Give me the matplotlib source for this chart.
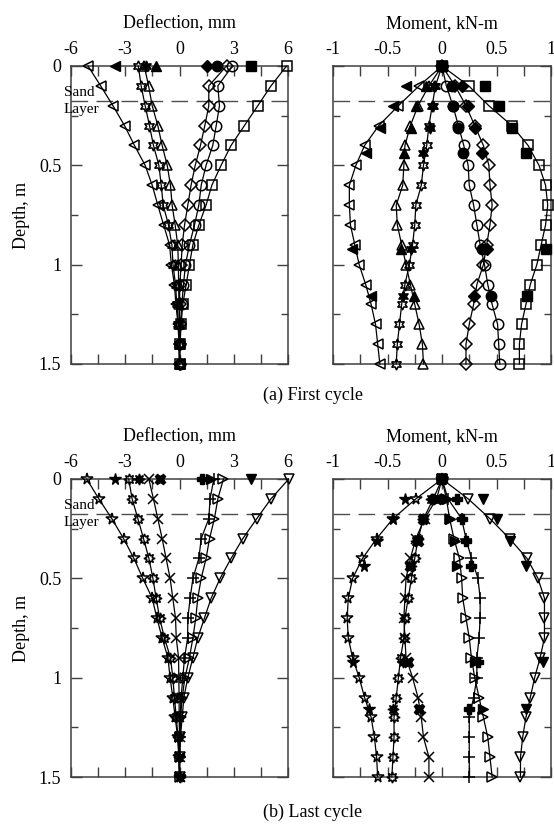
import matplotlib
matplotlib.use("Agg")
import matplotlib.pyplot as plt
from matplotlib.ticker import MultipleLocator, FuncFormatter

plt.rcParams['font.family'] = ['Liberation Serif', 'DejaVu Serif']
plt.rcParams['axes.unicode_minus'] = False

# depths of the profile points and of the strain gauges (m)
depth = [0, 0.1, 0.2, 0.3, 0.4, 0.5, 0.6, 0.7, 0.8, 0.9, 1.0, 1.1, 1.2, 1.3, 1.4, 1.5]
gauge_depth = [0, 0.1, 0.2, 0.31, 0.44, 0.92, 1.16]
sand_depth = 0.175

# ---- (a) first cycle ----
# deflection (mm), open markers
d1_ltri = [-5.06, -4.36, -3.68, -3.04, -2.49, -1.90, -1.51, -1.20, -0.88, -0.55, -0.45, -0.28, -0.20, -0.08, -0.03, 0.0]
d1_hex = [-2.28, -2.12, -1.90, -1.66, -1.44, -1.14, -1.01, -0.90, -0.61, -0.42, -0.36, -0.22, -0.15, -0.06, -0.02, 0.0]
d1_tri = [-1.95, -1.71, -1.51, -1.20, -0.96, -0.68, -0.50, -0.41, -0.24, -0.10, -0.06, -0.05, -0.03, -0.01, 0.0, 0.0]
d1_dia = [2.60, 1.62, 1.62, 1.40, 1.16, 0.87, 0.64, 0.46, 0.28, 0.15, 0.09, 0.02, 0.0, 0.0, 0.0, 0.0]
d1_cir = [2.93, 2.12, 2.21, 2.03, 1.84, 1.47, 1.20, 1.07, 0.83, 0.55, 0.33, 0.22, 0.13, 0.05, 0.02, 0.0]
d1_sq = [5.92, 5.06, 4.33, 3.59, 2.85, 2.30, 1.79, 1.47, 1.07, 0.74, 0.55, 0.37, 0.18, 0.09, 0.03, 0.0]
# measured pile-head deflection (mm), filled markers
d1_head = [-3.56, -1.83, -1.28, 1.54, 2.09, 3.98]

# moment (kN-m), open markers
m1_ltri = [0, -0.21, -0.40, -0.58, -0.71, -0.79, -0.85, -0.85, -0.84, -0.80, -0.76, -0.70, -0.65, -0.61, -0.59, -0.57]
m1_hex = [0, -0.06, -0.09, -0.12, -0.14, -0.17, -0.19, -0.24, -0.25, -0.27, -0.30, -0.34, -0.37, -0.39, -0.41, -0.42]
m1_tri = [0, -0.12, -0.22, -0.29, -0.34, -0.35, -0.36, -0.42, -0.41, -0.37, -0.33, -0.29, -0.25, -0.21, -0.18, -0.17]
m1_dia = [0, 0.12, 0.22, 0.30, 0.38, 0.43, 0.44, 0.46, 0.44, 0.41, 0.38, 0.32, 0.29, 0.25, 0.22, 0.22]
m1_cir = [0, 0.04, 0.10, 0.15, 0.20, 0.24, 0.25, 0.29, 0.32, 0.35, 0.39, 0.42, 0.46, 0.51, 0.52, 0.53]
m1_sq = [0, 0.245, 0.43, 0.64, 0.79, 0.89, 0.95, 0.97, 0.95, 0.91, 0.87, 0.81, 0.77, 0.73, 0.71, 0.71]
# strain gauge moments, filled markers
g1_ltri = [0, -0.33, -0.45, -0.57, -0.70, -0.83, -0.65]
g1_hex = [0, -0.07, -0.08, -0.11, -0.17, -0.28, -0.36]
g1_tri = [0, -0.15, -0.24, -0.28, -0.35, -0.38, -0.26]
g1_dia = [0, 0.18, 0.24, 0.30, 0.37, 0.41, 0.29]
g1_cir = [0, 0.09, 0.10, 0.15, 0.19, 0.37, 0.45]
g1_sq = [0, 0.39, 0.52, 0.64, 0.77, 0.95, 0.78]

# ---- (b) last cycle ----
d2_star = [-5.13, -4.46, -3.74, -3.09, -2.52, -2.03, -1.51, -1.25, -0.96, -0.64, -0.52, -0.37, -0.24, -0.10, -0.04, 0.0]
d2_burst = [-2.81, -2.62, -2.30, -1.99, -1.69, -1.47, -1.29, -1.10, -0.83, -0.50, -0.37, -0.28, -0.18, -0.08, -0.03, 0.0]
d2_x = [-1.70, -1.44, -1.20, -0.96, -0.74, -0.52, -0.37, -0.22, -0.18, -0.05, -0.04, -0.02, -0.02, 0.0, 0.0, 0.0]
d2_plus = [1.90, 1.69, 1.62, 1.20, 1.07, 0.74, 0.59, 0.46, 0.45, 0.28, 0.18, 0.09, 0.03, 0.01, 0.0, 0.0]
d2_rtri = [2.43, 2.12, 1.93, 1.66, 1.47, 1.20, 1.01, 0.90, 0.74, 0.55, 0.30, 0.15, 0.06, 0.02, 0.0, 0.0]
d2_dtri = [6.04, 5.06, 4.27, 3.50, 2.85, 2.25, 1.75, 1.38, 1.01, 0.74, 0.46, 0.24, 0.15, 0.05, 0.02, 0.0]
d2_head = [-3.56, -2.26, -1.06, 1.26, 1.72, 3.94]

m2_star = [0, -0.24, -0.45, -0.60, -0.73, -0.82, -0.86, -0.87, -0.86, -0.82, -0.76, -0.71, -0.65, -0.62, -0.60, -0.59]
m2_burst = [0, -0.08, -0.17, -0.22, -0.25, -0.28, -0.31, -0.34, -0.35, -0.38, -0.40, -0.42, -0.44, -0.44, -0.45, -0.46]
m2_x = [0, -0.05, -0.16, -0.24, -0.29, -0.33, -0.34, -0.35, -0.34, -0.33, -0.27, -0.22, -0.19, -0.17, -0.12, -0.12]
m2_plus = [0, 0.055, 0.18, 0.22, 0.27, 0.33, 0.35, 0.35, 0.34, 0.32, 0.32, 0.29, 0.25, 0.25, 0.25, 0.25]
m2_rtri = [0, 0.04, 0.07, 0.11, 0.16, 0.18, 0.19, 0.22, 0.25, 0.27, 0.30, 0.34, 0.38, 0.42, 0.44, 0.46]
m2_dtri = [0, 0.24, 0.44, 0.62, 0.78, 0.88, 0.94, 0.94, 0.94, 0.90, 0.85, 0.81, 0.77, 0.74, 0.72, 0.72]
g2_star = [0, -0.34, -0.45, -0.60, -0.72, -0.82, -0.67]
g2_burst = [0, -0.10, -0.17, -0.24, -0.28, -0.36, -0.45]
g2_x = [0, -0.05, -0.17, -0.22, -0.29, -0.31, -0.21]
g2_plus = [0, 0.14, 0.18, 0.22, 0.27, 0.33, 0.25]
g2_rtri = [0, 0.05, 0.07, 0.12, 0.14, 0.30, 0.38]
g2_dtri = [0, 0.38, 0.50, 0.62, 0.77, 0.93, 0.77]

hexagram = (6, 1, 0)
burst = (8, 1, 0)
# (open marker, filled marker)
marks1 = [('<', '<'), (hexagram, hexagram), ('^', '^'), ('D', 'D'), ('o', 'o'), ('s', 's')]
marks2 = [('*', '*'), (burst, burst), ('x', 'X'), ('+', 'P'), ('>', '>'), ('v', 'v')]
sizes = {'D': 6, 's': 7.5, 'o': 7.5, '*': 8.5, 'x': 7.5, '+': 8.5}

fmt = FuncFormatter(lambda v, p: '%g' % v)


def msize(m):
    return sizes.get(m, 7.5) if isinstance(m, str) else 8


def style_ax(ax, xlim, major, minor, xlabel, left_labels):
    ax.set_xlim(xlim)
    ax.set_ylim(1.5, 0)
    ax.xaxis.set_major_locator(MultipleLocator(major))
    ax.xaxis.set_minor_locator(MultipleLocator(minor))
    ax.yaxis.set_major_locator(MultipleLocator(0.5))
    ax.yaxis.set_minor_locator(MultipleLocator(0.25))
    ax.xaxis.set_major_formatter(fmt)
    ax.yaxis.set_major_formatter(fmt)
    ax.tick_params(which='both', direction='in', top=True, bottom=True,
                   left=True, right=True, labeltop=True, labelbottom=False,
                   labelleft=left_labels, labelsize=13, width=1.0, color='0.25')
    ax.tick_params(axis='x', which='both', length=7, pad=6)
    ax.tick_params(axis='y', which='major', length=8, pad=7)
    ax.tick_params(axis='y', which='minor', length=5)
    ax.xaxis.set_label_position('top')
    ax.set_xlabel(xlabel, fontsize=13, labelpad=9)
    for s in ax.spines.values():
        s.set_linewidth(1.1)
        s.set_color('0.25')
    ax.axhline(sand_depth, color='0.3', lw=1.0, dashes=(12, 6), zorder=1)


def draw_profiles(ax, series, marks):
    for vals, (m, _) in zip(series, marks):
        ax.plot(vals, depth, color='black', lw=0.9, marker=m, ms=msize(m),
                mfc='none', mec='black', mew=1.1, zorder=3, clip_on=False)


def draw_head(ax, vals, marks):
    for v, (_, m) in zip(vals, marks):
        ax.plot([v], [0], linestyle='none', marker=m, ms=msize(m), color='black',
                mfc='black', mec='black', mew=1.0, zorder=5, clip_on=False)


def draw_gauges(ax, series, marks):
    for vals, (_, m) in zip(series, marks):
        ax.plot(vals, gauge_depth, linestyle='none', marker=m, ms=msize(m),
                color='black', mfc='black', mec='black', mew=1.0, zorder=5, clip_on=False)


fig = plt.figure(figsize=(5.54, 8.25), dpi=100)
left_x, right_x, w_l, w_r = 71 / 554, 333 / 554, 217 / 554, 218 / 554
top_y, bot_y, h = 1 - 364 / 825, 1 - 777 / 825, 298 / 825

panels = [
    (top_y, [d1_ltri, d1_hex, d1_tri, d1_dia, d1_cir, d1_sq], d1_head,
     [m1_ltri, m1_hex, m1_tri, m1_dia, m1_cir, m1_sq],
     [g1_ltri, g1_hex, g1_tri, g1_dia, g1_cir, g1_sq], marks1),
    (bot_y, [d2_star, d2_burst, d2_x, d2_plus, d2_rtri, d2_dtri], d2_head,
     [m2_star, m2_burst, m2_x, m2_plus, m2_rtri, m2_dtri],
     [g2_star, g2_burst, g2_x, g2_plus, g2_rtri, g2_dtri], marks2),
]

for y0, defl, head, mom, gauge, marks in panels:
    ax1 = fig.add_axes([left_x, y0, w_l, h])
    style_ax(ax1, (-6, 6), 3, 1.5, 'Deflection, mm', True)
    ax1.set_ylabel('Depth, m', fontsize=13, labelpad=6)
    draw_profiles(ax1, defl, marks)
    draw_head(ax1, head, marks)
    ax1.text(-6.4, sand_depth - 0.01, 'Sand', fontsize=11, ha='left', va='bottom', clip_on=False)
    ax1.text(-6.4, sand_depth + 0.01, 'Layer', fontsize=11, ha='left', va='top', clip_on=False)

    ax2 = fig.add_axes([right_x, y0, w_r, h])
    style_ax(ax2, (-1, 1), 0.5, 0.25, 'Moment, kN-m', False)
    draw_profiles(ax2, mom, marks)
    draw_gauges(ax2, gauge, marks)

fig.text(313 / 554, 1 - 395 / 825, '(a) First cycle', fontsize=13, ha='center', va='center')
fig.text(313 / 554, 1 - 812 / 825, '(b) Last cycle', fontsize=13, ha='center', va='center')

fig.savefig('out.png', dpi=100)
